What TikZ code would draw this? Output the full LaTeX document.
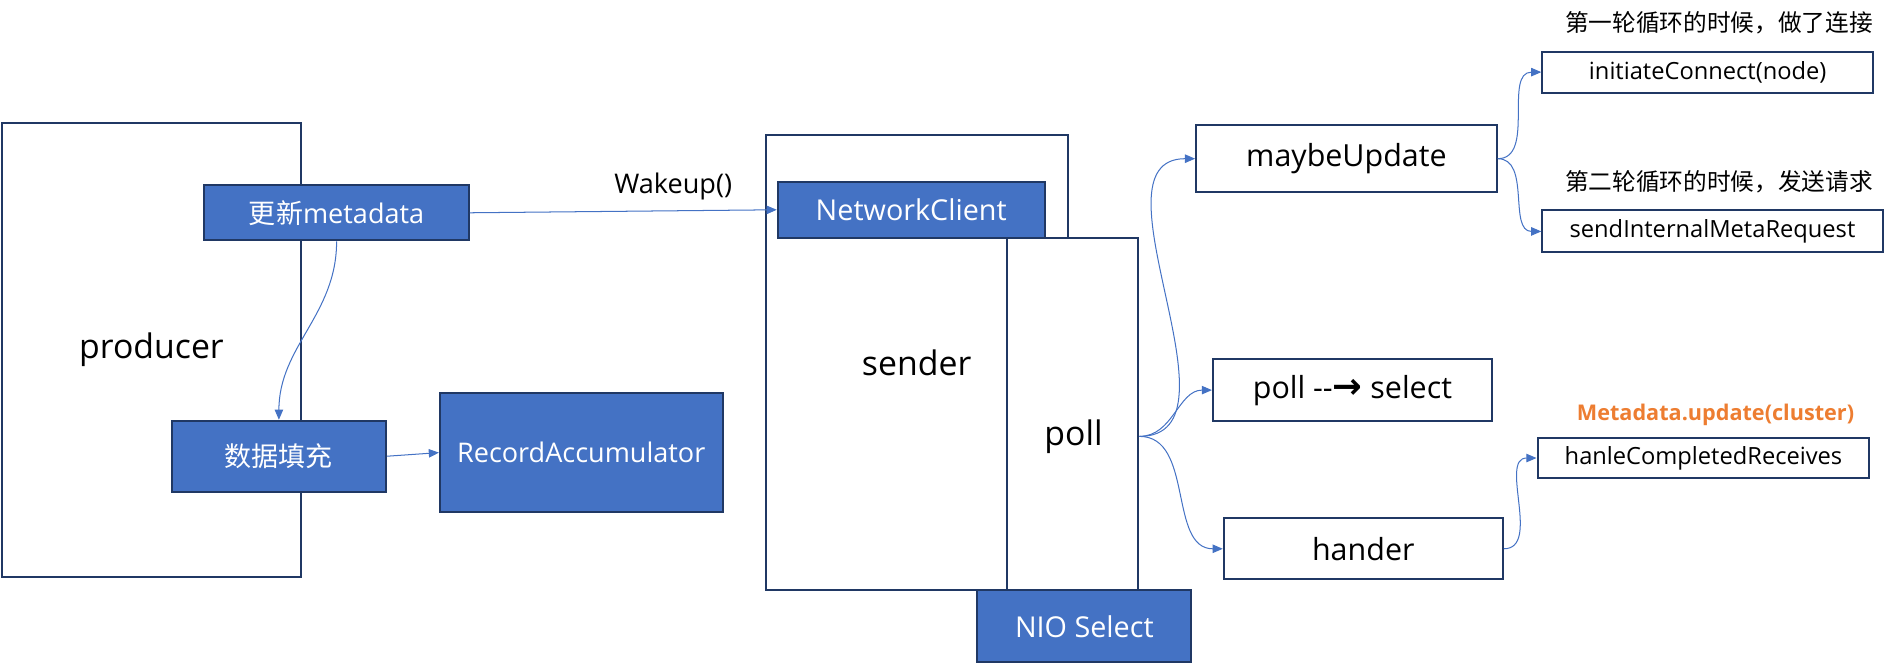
\documentclass[tikz,border=0pt]{standalone}
\usepackage{fontspec}
\setmainfont{Open Sans}
\newfontfamily\cjk{Noto Sans CJK SC}
\newfontfamily\symfont{DejaVu Sans}
\usetikzlibrary{arrows.meta,positioning}
\definecolor{BoxBlue}{RGB}{68,114,196}
\definecolor{EdgeNavy}{RGB}{32,56,100}
\definecolor{NoteOrange}{RGB}{237,125,49}
\tikzset{
  bluebox/.style={draw=EdgeNavy,fill=BoxBlue,line width=1.2pt,text=white,
    inner sep=0pt,align=center},
  plainbox/.style={draw=EdgeNavy,fill=white,line width=1.2pt,inner sep=0pt,
    align=center},
  bigtxt/.style={font=\fontsize{20}{24}\selectfont},
  midtxt/.style={font=\fontsize{16}{19}\selectfont},
  smalltxt/.style={font=\fontsize{14}{17}\selectfont},
  arrow/.style={-{Triangle[length=6pt,width=5pt]},line width=0.6pt,BoxBlue}
}
\begin{document}
\begin{tikzpicture}[x=0.025cm,y=-0.025cm]
      \useasboundingbox (0,0) rectangle (1568,552);
      % producer side
      \node[plainbox,bigtxt,minimum width=6.2cm,minimum height=9.45cm] (prod) at (126,291) {producer};
      \node[bluebox,midtxt,minimum width=5.5cm,minimum height=1.15cm] (upd) at (280,177) {{\cjk 更新}metadata};
      \node[bluebox,midtxt,minimum width=4.45cm,minimum height=1.475cm] (fill) at (232,379.5) {\cjk 数据填充};
      \node[bluebox,midtxt,minimum width=5.875cm,minimum height=2.475cm] (acc) at (483.5,376.5) {RecordAccumulator};
      % sender side
      \node[plainbox,bigtxt,minimum width=6.275cm,minimum height=9.475cm] (sender) at (762.5,301.5) {sender};
      \node[bluebox,font=\fontsize{17}{20}\selectfont,minimum width=5.55cm,minimum height=1.175cm] (netc) at (758,174.5) {NetworkClient};
      \node[plainbox,minimum width=2.725cm,minimum height=7.325cm] (pollbox) at (892.5,344.5) {};
      \node[bigtxt] (polltxt) at (893,363) {poll};
      \node[bluebox,font=\fontsize{17}{20}\selectfont,minimum width=4.45cm,minimum height=1.5cm] (nio) at (902,521) {NIO Select};
      \node[midtxt] (wake) at (560,155) {Wakeup()};
      % right side
      \node[plainbox,font=\fontsize{18}{22}\selectfont,minimum width=6.25cm,minimum height=1.4cm] (maybe) at (1120,132) {maybeUpdate};
      \node[plainbox,font=\fontsize{18}{22}\selectfont,minimum width=5.8cm,minimum height=1.275cm] (psel) at (1125,324.5) {poll -{}-{\symfont\bfseries\fontsize{21}{22}\selectfont →} select};
      \node[plainbox,font=\fontsize{18}{22}\selectfont,minimum width=5.8cm,minimum height=1.275cm] (hand) at (1134,456.5) {hander};
      \node[plainbox,smalltxt,minimum width=6.875cm,minimum height=0.85cm] (init) at (1420.5,60) {initiateConnect(node)};
      \node[plainbox,smalltxt,minimum width=7.075cm,minimum height=0.875cm] (sreq) at (1424.5,192.5) {sendInternalMetaRequest};
      \node[plainbox,smalltxt,minimum width=6.9cm,minimum height=0.85cm] (hrec) at (1417,381) {hanleCompletedReceives};
      \node[font=\cjk\fontsize{14}{17}\selectfont] (note1) at (1430,19) {第一轮循环的时候，做了连接};
      \node[font=\cjk\fontsize{14}{17}\selectfont] (note2) at (1430,151) {第二轮循环的时候，发送请求};
      \node[font=\bfseries\fontsize{12.8}{16}\selectfont,text=NoteOrange] (mupd) at (1427,345) {Metadata.update(cluster)};
      % connectors
      \draw[arrow] (upd.south) to[out=-90,in=90] (fill.north);
      \draw[arrow] (fill.east) -- (acc.west);
      \draw[arrow] (upd.east) -- (netc.west);
      \draw[arrow] (pollbox.east |- polltxt) to[out=0,in=180] (maybe.west);
      \draw[arrow] (pollbox.east |- polltxt) to[out=0,in=180] (psel.west);
      \draw[arrow] (pollbox.east |- polltxt) to[out=0,in=180] (hand.west);
      \draw[arrow] (maybe.east) to[out=0,in=180] (init.west);
      \draw[arrow] (maybe.east) to[out=0,in=180] (sreq.west);
      \draw[arrow] (hand.east) to[out=0,in=180] (hrec.west);
    \end{tikzpicture}
\end{document}
